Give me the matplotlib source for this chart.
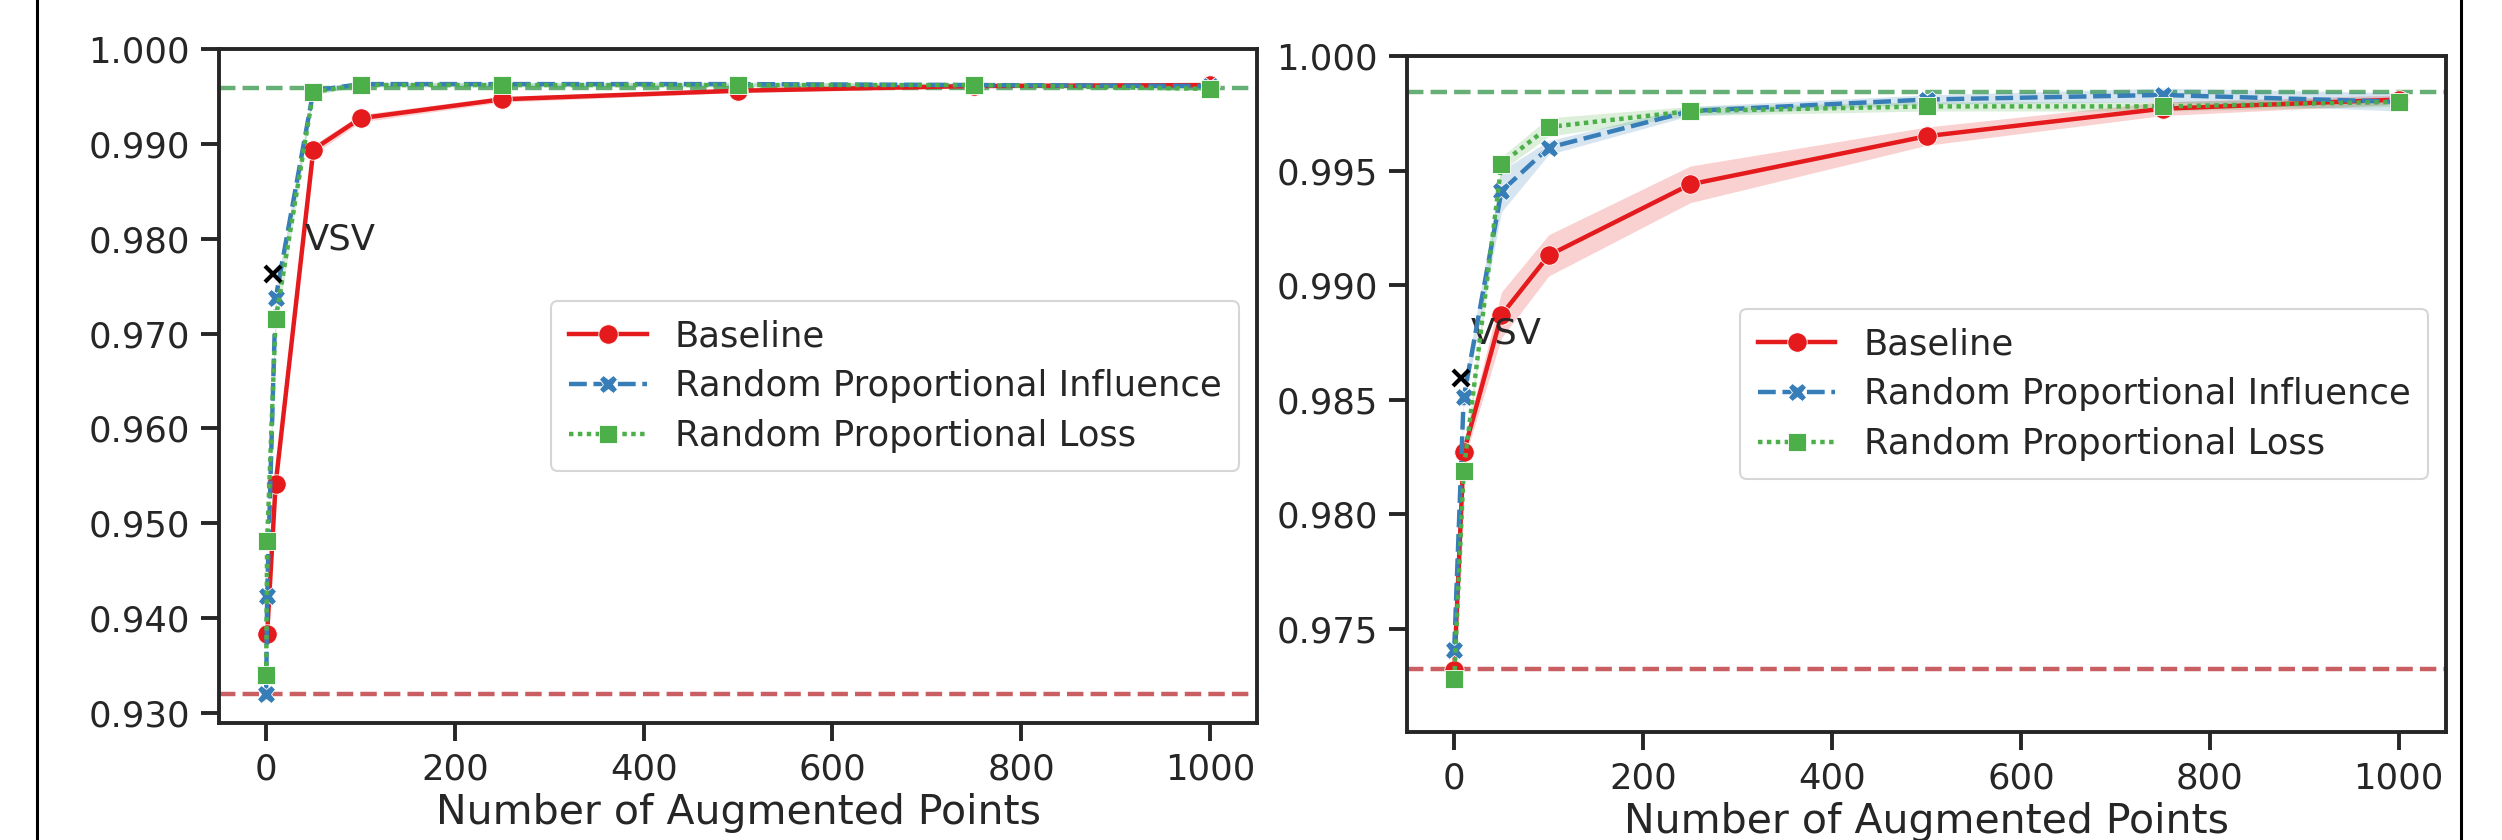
import matplotlib
matplotlib.use("Agg")
import matplotlib.pyplot as plt
from matplotlib.ticker import FormatStrFormatter, MultipleLocator
from matplotlib.lines import Line2D

# ---------------- data ----------------
series_names = ["Baseline", "Random Proportional Influence", "Random Proportional Loss"]

# left panel
left_x_baseline = [1, 10, 50, 100, 250, 500, 750, 1000]
left_baseline = [0.9383, 0.9541, 0.9894, 0.9927, 0.9947, 0.9956, 0.9961, 0.9962]
left_baseline_ci = [0.0005, 0.0008, 0.0005, 0.0004, 0.0003, 0.0002, 0.0002, 0.0002]

left_x_random = [0, 1, 10, 50, 100, 250, 500, 750, 1000]
left_influence = [0.9320, 0.9423, 0.9737, 0.9956, 0.9963, 0.9963, 0.9963, 0.9962, 0.9961]
left_influence_ci = [0.0003, 0.0005, 0.0008, 0.0004, 0.0002, 0.0002, 0.0002, 0.0002, 0.0003]
left_loss = [0.9340, 0.9481, 0.9715, 0.9955, 0.9962, 0.9962, 0.9962, 0.9962, 0.9958]
left_loss_ci = [0.0003, 0.0006, 0.0015, 0.0003, 0.0002, 0.0002, 0.0002, 0.0002, 0.0002]

left_no_aug = 0.9320
left_full = 0.99585
left_vsv = (7, 0.9763)

# right panel
right_x = [0, 10, 50, 100, 250, 500, 750, 1000]
right_baseline = [0.9732, 0.9827, 0.9887, 0.9913, 0.9944, 0.9965, 0.9977, 0.9981]
right_baseline_ci = [0.0003, 0.0004, 0.0010, 0.0009, 0.0008, 0.0004, 0.0003, 0.0002]
right_influence = [0.9741, 0.9851, 0.9941, 0.9960, 0.9976, 0.9981, 0.9983, 0.9980]
right_influence_ci = [0.0004, 0.0004, 0.0009, 0.0003, 0.0002, 0.0002, 0.0003, 0.0004]
right_loss = [0.9728, 0.9819, 0.9953, 0.9969, 0.9976, 0.9978, 0.9978, 0.9980]
right_loss_ci = [0.0006, 0.0004, 0.0003, 0.0004, 0.0002, 0.0002, 0.0002, 0.0002]

right_no_aug = 0.97323
right_full = 0.99842
right_vsv = (7, 0.98597)

x_ticks = [0, 200, 400, 600, 800, 1000]
x_label = "Number of Augmented Points"

# ---------------- style ----------------
TXT = "#262626"
FS_TICK = 25.5
FS_LABEL = 29.5
LW = 3.2
colors = ["#e41a1c", "#377eb8", "#4daf4a"]
markers = ["o", "X", "s"]
msizes = [14, 13, 13]
dashes = [(None), (4, 1.5), (1, 1)]

plt.rcParams["font.family"] = ["DejaVu Sans"]
plt.rcParams["text.color"] = TXT
plt.rcParams["axes.labelcolor"] = TXT
plt.rcParams["xtick.color"] = TXT
plt.rcParams["ytick.color"] = TXT

fig = plt.figure(figsize=(25.02, 8.4), dpi=100)
ax1 = fig.add_axes([219 / 2502, 1 - 723 / 840, 1038 / 2502, 674 / 840])
ax2 = fig.add_axes([1407 / 2502, 1 - 732 / 840, 1039 / 2502, 676 / 840])


def draw(ax, xs_list, ys_list, ci_list, no_aug, full, vsv, ylim, ystep, vsv_off):
    for i, (xs, ys, ci) in enumerate(zip(xs_list, ys_list, ci_list)):
        lo = [y - c for y, c in zip(ys, ci)]
        hi = [y + c for y, c in zip(ys, ci)]
        ax.fill_between(xs, lo, hi, color=colors[i], alpha=0.2, lw=0, zorder=2)
        ln, = ax.plot(xs, ys, color=colors[i], lw=LW, marker=markers[i],
                      ms=msizes[i], mec="white", mew=0.6, label=series_names[i],
                      zorder=3 + i)
        if dashes[i] is not None:
            ln.set_dashes(dashes[i])
    ax.axhline(no_aug, color="#c44e52", lw=3.2, ls="--", alpha=0.9, zorder=1)
    ax.axhline(full, color="#55a868", lw=3.2, ls="--", alpha=0.9, zorder=1)
    ax.plot([vsv[0]], [vsv[1]], marker="x", color="black", ms=11, mew=3, ls="none", zorder=7)
    ax.annotate("VSV", xy=vsv, xytext=vsv_off, textcoords="offset points",
                ha="left", va="center", fontsize=FS_TICK, color=TXT)

    ax.set_xlim(-50, 1050)
    ax.set_ylim(*ylim)
    ax.set_xticks(x_ticks)
    ax.yaxis.set_major_locator(MultipleLocator(ystep))
    ax.yaxis.set_major_formatter(FormatStrFormatter("%.3f"))
    ax.tick_params(axis="both", which="major", direction="out", length=13,
                   width=2.8, labelsize=FS_TICK, pad=8, color=TXT)
    for s in ax.spines.values():
        s.set_linewidth(2.8)
        s.set_color(TXT)
    ax.set_xlabel(x_label, fontsize=FS_LABEL, labelpad=5)
    leg = ax.legend(loc="center right", fontsize=FS_TICK, handlelength=2.2,
                    frameon=True, fancybox=True, framealpha=0.8, edgecolor="0.8",
                    borderpad=0.5, labelspacing=0.45, handletextpad=0.8)
    leg.get_frame().set_linewidth(1.5)


draw(ax1,
     [left_x_baseline, left_x_random, left_x_random],
     [left_baseline, left_influence, left_loss],
     [left_baseline_ci, left_influence_ci, left_loss_ci],
     left_no_aug, left_full, left_vsv, (0.92894, 1.0), 0.01, (23, 25))

draw(ax2,
     [right_x, right_x, right_x],
     [right_baseline, right_influence, right_loss],
     [right_baseline_ci, right_influence_ci, right_loss_ci],
     right_no_aug, right_full, right_vsv, (0.9705, 1.0), 0.005, (7, 32))

# outer frame lines of the original figure
for xf in (37 / 2502, 2461 / 2502):
    fig.add_artist(Line2D([xf, xf], [0, 1], transform=fig.transFigure,
                          color="black", lw=2.2))

fig.savefig("out.png", dpi=100, facecolor="white")
